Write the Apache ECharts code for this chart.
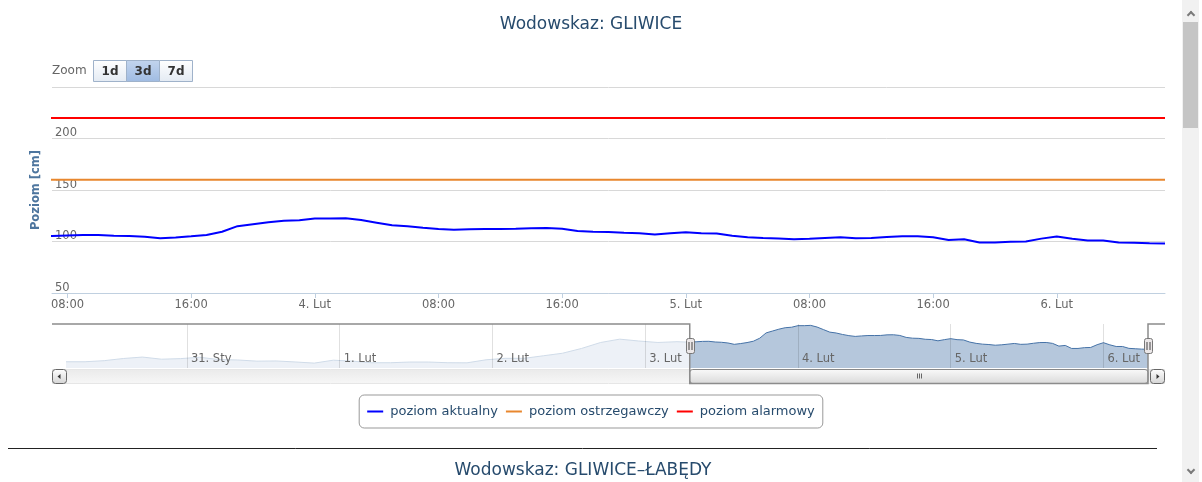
<!DOCTYPE html>
<html lang="pl">
<head>
<meta charset="UTF-8">
<title>Wodowskaz: GLIWICE</title>
<style>
    html, body { margin: 0; padding: 0; background: #fff; overflow: hidden; }
    #chart { position: absolute; left: 0; top: 0; width: 1182px; height: 482px; }
    /* pasek przewijania strony */
    #pageScroll { position: absolute; left: 1182px; top: 0; width: 17px; height: 482px; background: #f1f1f1; }
    #pageScroll .thumb { position: absolute; left: 1px; top: 22px; width: 15px; height: 106px; background: #c5c5c5; }
    #pageScroll .arr { position: absolute; left: 6px; width: 4px; height: 4px; border-top: 2px solid #7a7a7a; border-left: 2px solid #7a7a7a; }
    #pageScroll .up { top: 12px; transform: rotate(45deg); }
    #pageScroll .down { top: 467px; transform: rotate(225deg); }
</style>
</head>
<body>
<div id="chart"></div>
<div id="pageScroll"><div class="arr up"></div><div class="thumb"></div><div class="arr down"></div></div>
<script src="https://cdn.jsdelivr.net/npm/echarts@6/dist/echarts.min.js"></script>
<script>
    var monthNames = ['Sty', 'Lut', 'Mar', 'Kwi', 'Maj', 'Cze', 'Lip', 'Sie', 'Wrz', 'Paź', 'Lis', 'Gru'];

    // stan wody co 3 h (widoczny tylko w nawigatorze)
    var earlyStart = '2019-01-30T05:00';
    var earlyLevels = [85.4, 85.4, 86.5, 88.7, 90.2, 88.0, 88.6, 90.0, 87.6, 87.2,
        86.0, 86.2, 85.2, 84.0, 87.0, 86.0, 84.4, 84.4, 85.1, 85.1,
        84.4, 84.3, 87.4, 88.9, 88.9, 91.5, 94.1, 99.0, 105.1, 108.5,
        106.6, 105.1, 105.9];

    // stan wody co 1 h
    var levelStart = '2019-02-03T07:00';
    var levels = [105.4, 105.8, 106.2, 106.3, 105.6, 105.3, 104.6, 103.2, 104.0, 105.0,
        106.4, 109.5, 114.9, 116.8, 118.7, 120.2, 120.7, 122.3, 122.3, 122.6,
        120.9, 118.3, 115.7, 114.8, 113.3, 112.1, 111.3, 111.8, 112.2, 112.2,
        112.3, 112.9, 113.0, 112.3, 110.3, 109.5, 109.3, 108.4, 108.1, 106.8,
        108.0, 109.0, 108.0, 107.7, 105.5, 104.2, 103.4, 103.0, 102.3, 102.7,
        103.4, 104.1, 103.2, 103.4, 104.3, 105.0, 105.1, 104.2, 101.4, 102.1,
        99.0, 99.0, 99.8, 100.0, 102.8, 104.9, 102.7, 101.0, 101.0, 99.1,
        98.7, 98.3, 98.1];

    var warningLevel = 160;
    var alarmLevel = 220;

    var yMin = 50, yMax = 250, yStep = 50;
    var navMin = 79, navMax = 124;

    var viewStart = '2019-02-03T07:00';
    var viewEnd = '2019-02-06T07:00';
    var mainTicks = ['2019-02-03T08:00', '2019-02-03T16:00', '2019-02-04T00:00', '2019-02-04T08:00',
        '2019-02-04T16:00', '2019-02-05T00:00', '2019-02-05T08:00', '2019-02-05T16:00', '2019-02-06T00:00'];
    var navTicks = ['2019-01-31T00:00', '2019-02-01T00:00', '2019-02-02T00:00', '2019-02-03T00:00',
        '2019-02-04T00:00', '2019-02-05T00:00', '2019-02-06T00:00'];
    var zoomButtons = ['1d', '3d', '7d'];
    var zoomSelected = '3d';

    var H = 3600 * 1000;
    function t(s) { return Date.parse(s + ':00Z'); }
    function pad(n) { return (n < 10 ? '0' : '') + n; }
    function fmtDay(v) {
        var d = new Date(v);
        return d.getUTCDate() + '. ' + monthNames[d.getUTCMonth()];
    }
    function fmtMain(v) {
        var d = new Date(v);
        if (d.getUTCHours() === 0 && d.getUTCMinutes() === 0) return fmtDay(v);
        return pad(d.getUTCHours()) + ':' + pad(d.getUTCMinutes());
    }

    var seriesData = earlyLevels.map(function (v, i) { return [t(earlyStart) + i * 3 * H, v]; })
        .concat(levels.map(function (v, i) { return [t(levelStart) + i * H, v]; }));
    var first = seriesData[0][0];
    var last = seriesData[seriesData.length - 1][0];

    var font = 'DejaVu Sans';
    var chart = echarts.init(document.getElementById('chart'));

    chart.setOption({
        animation: false,
        textStyle: { fontFamily: font },
        title: {
            text: 'Wodowskaz: GLIWICE', left: 'center', top: 16, padding: 0,
            textStyle: { fontFamily: font, fontSize: 17, fontWeight: 'normal', color: '#274b6d' }
        },
        legend: {
            data: ['poziom aktualny', 'poziom ostrzegawczy', 'poziom alarmowy'],
            left: 'center', top: 395,
            icon: 'rect', itemWidth: 16, itemHeight: 2, itemGap: 8,
            padding: [10, 8, 10, 8],
            borderColor: '#999', borderWidth: 1, borderRadius: 5,
            textStyle: { fontFamily: font, fontSize: 13, color: '#274b6d', padding: [0, 0, 0, 2] }
        },
        grid: [
            { left: 52, width: 1113, top: 87, height: 206 },
            { left: 66, width: 1082, top: 324, height: 44 }
        ],
        xAxis: [
            {
                gridIndex: 0, type: 'value', min: t(viewStart), max: t(viewEnd),
                axisLine: { lineStyle: { color: '#c0d0e0', width: 1 } },
                axisTick: { customValues: mainTicks.map(t), length: 5, lineStyle: { color: '#c0d0e0' } },
                axisLabel: { customValues: mainTicks.map(t), formatter: fmtMain, color: '#666', fontSize: 11.5, margin: 6 },
                splitLine: { show: false }
            },
            {
                gridIndex: 1, type: 'value', min: first, max: last, z: 10,
                axisLine: { show: false },
                axisTick: { show: false, customValues: navTicks.map(t) },
                axisLabel: {
                    customValues: navTicks.map(t), formatter: fmtDay, inside: true, align: 'left',
                    padding: [0, 0, 0, 4], margin: 3, color: '#666', fontSize: 11.5
                },
                splitLine: { show: true, lineStyle: { color: 'rgba(0,0,0,0.12)', width: 1 } }
            }
        ],
        yAxis: [
            {
                gridIndex: 0, type: 'value', min: yMin, max: yMax, interval: yStep,
                name: 'Poziom [cm]', nameLocation: 'middle', nameRotate: 90, nameGap: 10,
                nameTextStyle: { color: '#4d759e', fontWeight: 'bold', fontSize: 11.5, fontFamily: font },
                axisLine: { show: false }, axisTick: { show: false },
                axisLabel: {
                    inside: true, margin: 3, verticalAlign: 'bottom', padding: [0, 0, -1, 0],
                    color: '#666', fontSize: 11.5,
                    formatter: function (v) { return v === yMax ? '' : String(v); }
                },
                splitLine: { lineStyle: { color: '#d8d8d8', width: 1 } }
            },
            { gridIndex: 1, type: 'value', min: navMin, max: navMax, show: false }
        ],
        series: [
            {
                name: 'poziom aktualny', type: 'line', data: seriesData, showSymbol: false,
                color: '#0000ff', lineStyle: { width: 2 }, z: 3
            },
            {
                name: 'poziom ostrzegawczy', type: 'line', showSymbol: false,
                data: [[first, warningLevel], [last, warningLevel]],
                color: '#e8872e', lineStyle: { width: 2 }
            },
            {
                name: 'poziom alarmowy', type: 'line', showSymbol: false,
                data: [[first, alarmLevel], [last, alarmLevel]],
                color: '#ff0000', lineStyle: { width: 2 }
            },
            {
                name: 'nawigator', type: 'line', xAxisIndex: 1, yAxisIndex: 1, data: seriesData,
                showSymbol: false, silent: true, color: '#4572a7',
                lineStyle: { width: 1 },
                areaStyle: { color: '#4572a7', opacity: 0.4, origin: 'start' }
            }
        ]
    });

    // nawigator, uchwyty i pasek przewijania
    var px = function (v) { return chart.convertToPixel({ xAxisIndex: 1 }, v); };
    var x0 = px(t(viewStart)), x1 = px(t(viewEnd));
    var navL = px(first);
    var navTop = 324, navH = 44, sbTop = 369.5, sbH = 14;
    var LG = echarts.graphic.LinearGradient;

    var g = [];
    g.push({ type: 'text', x: 52, y: 71, z: 20, style: { text: 'Zoom', font: '12px "DejaVu Sans"', fill: '#666', textVerticalAlign: 'middle' } });
    zoomButtons.forEach(function (b, i) {
        var bx = 93.5 + i * 33, sel = b === zoomSelected;
        g.push({
            type: 'rect', z: 20, shape: { x: bx, y: 60.5, width: 33, height: 21 },
            style: {
                fill: sel ? new LG(0, 0, 0, 1, [{ offset: 0, color: '#c3d5ee' }, { offset: 1, color: '#9fbbe2' }])
                          : new LG(0, 0, 0, 1, [{ offset: 0, color: '#ffffff' }, { offset: 1, color: '#e3eaf3' }]),
                stroke: '#9fb2ca', lineWidth: 1
            }
        });
        g.push({ type: 'text', z: 21, x: bx + 16.5, y: 71.5, style: { text: b, font: 'bold 12px "DejaVu Sans"', fill: '#333', textAlign: 'center', textVerticalAlign: 'middle' } });
    });

    g.push({ type: 'rect', z: 5, shape: { x: navL, y: navTop, width: x0 - navL, height: navH }, style: { fill: 'rgba(255,255,255,0.75)' } });

    g.push({ type: 'rect', z: 20, shape: { x: 52.5, y: sbTop, width: 1112, height: sbH }, style: { fill: new LG(0, 0, 0, 1, [{ offset: 0, color: '#eaeaea' }, { offset: 1, color: '#f7f7f7' }]), stroke: '#e6e6e6' } });
    var btnFill = new LG(0, 0, 0, 1, [{ offset: 0, color: '#ffffff' }, { offset: 1, color: '#d4d4d4' }]);
    g.push({ type: 'rect', z: 21, shape: { x: 52.5, y: sbTop, width: 14, height: sbH, r: 3 }, style: { fill: btnFill, stroke: '#666' } });
    g.push({ type: 'polygon', z: 22, shape: { points: [[57.5, 376.5], [60.5, 374], [60.5, 379]] }, style: { fill: '#333' } });
    g.push({ type: 'rect', z: 21, shape: { x: 1150.5, y: sbTop, width: 14, height: sbH, r: 3 }, style: { fill: btnFill, stroke: '#666' } });
    g.push({ type: 'polygon', z: 22, shape: { points: [[1159.5, 376.5], [1156.5, 374], [1156.5, 379]] }, style: { fill: '#333' } });
    g.push({ type: 'rect', z: 21, shape: { x: x0, y: sbTop, width: x1 - x0, height: sbH, r: 3 }, style: { fill: new LG(0, 0, 0, 1, [{ offset: 0, color: '#fafafa' }, { offset: 1, color: '#d9d9d9' }]), stroke: '#888' } });
    var cx = Math.round((x0 + x1) / 2) + 0.5;
    [-2, 0, 2].forEach(function (d) {
        g.push({ type: 'line', z: 22, shape: { x1: cx + d, y1: 373.5, x2: cx + d, y2: 378.5 }, style: { stroke: '#666', lineWidth: 1 } });
    });

    g.push({ type: 'polyline', z: 23, shape: { points: [[52, 324], [x0, 324], [x0, sbTop + sbH], [x1, sbTop + sbH], [x1, 324], [1165, 324]] }, style: { stroke: '#8c8c8c', lineWidth: 1.5, fill: null } });

    [x0, x1].forEach(function (hx) {
        g.push({ type: 'rect', z: 24, shape: { x: Math.round(hx) - 3.5, y: 338.5, width: 8, height: 15, r: 2 }, style: { fill: '#ebe7e8', stroke: '#777' } });
        g.push({ type: 'line', z: 25, shape: { x1: Math.round(hx) - 1, y1: 342, x2: Math.round(hx) - 1, y2: 350 }, style: { stroke: '#444' } });
        g.push({ type: 'line', z: 25, shape: { x1: Math.round(hx) + 2, y1: 342, x2: Math.round(hx) + 2, y2: 350 }, style: { stroke: '#444' } });
    });

    g.push({ type: 'line', z: 20, shape: { x1: 8, y1: 448.5, x2: 1157, y2: 448.5 }, style: { stroke: '#222', lineWidth: 1 } });
    g.push({ type: 'text', z: 20, x: 583, y: 471, style: { text: 'Wodowskaz: GLIWICE–ŁABĘDY', font: '17px "DejaVu Sans"', fill: '#274b6d', textAlign: 'center', textVerticalAlign: 'middle' } });

    chart.setOption({ graphic: g });
</script>
</body>
</html>
